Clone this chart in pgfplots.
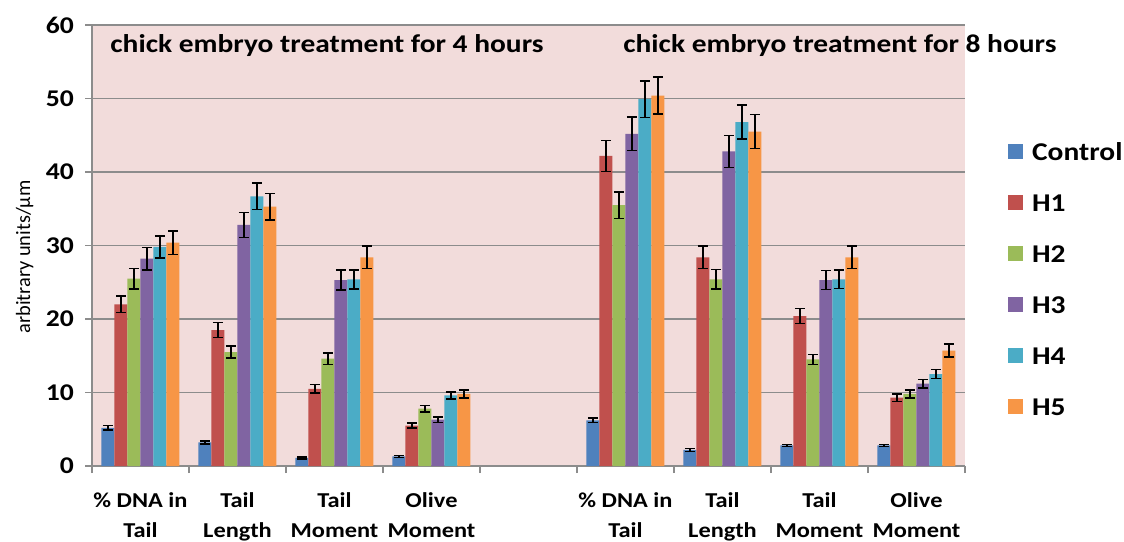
\documentclass[border=0pt]{standalone}
\usepackage{pgfplots}
\pgfplotsset{compat=1.18}
\usepackage{fontspec}
\setmainfont{Carlito}[FakeStretch=1.15]
\newfontfamily\ylabfont{Carlito}

\definecolor{cC}{HTML}{4F81BD}
\definecolor{cHa}{HTML}{C0504D}
\definecolor{cHb}{HTML}{9BBB59}
\definecolor{cHc}{HTML}{8064A2}
\definecolor{cHd}{HTML}{4BACC6}
\definecolor{cHe}{HTML}{F79646}
\definecolor{bgpink}{HTML}{F2DCDB}
\definecolor{gridgray}{HTML}{8C8C8C}

% x: 0-3 = 4 hours, 5-8 = 8 hours (4 is the empty gap)
\pgfplotstableread{
x ctrl ctrle hA   hAe  hB   hBe  hC   hCe  hD   hDe  hE   hEe
0 5.2  0.30  22.0 1.10 25.5 1.40 28.2 1.50 29.8 1.50 30.4 1.60
1 3.2  0.20  18.5 1.00 15.5 0.80 32.8 1.70 36.7 1.80 35.3 1.80
2 1.1  0.15  10.5 0.60 14.6 0.80 25.3 1.35 25.4 1.30 28.4 1.50
3 1.3  0.15  5.5  0.35 7.8  0.45 6.3  0.40 9.6  0.45 9.8  0.55
5 6.2  0.30  42.2 2.10 35.5 1.80 45.2 2.30 49.9 2.50 50.4 2.50
6 2.2  0.20  28.4 1.50 25.4 1.35 42.8 2.20 46.8 2.30 45.5 2.30
7 2.8  0.15  20.4 1.00 14.5 0.70 25.3 1.30 25.4 1.25 28.4 1.50
8 2.8  0.15  9.3  0.50 9.8  0.55 11.2 0.60 12.5 0.60 15.7 0.90
}\data

\begin{document}
\begin{tikzpicture}
\useasboundingbox (0,0) rectangle (562pt,270.5pt);
\begin{axis}[
    at={(46pt,37.5pt)}, anchor=south west,
    scale only axis,
    width=436.5pt, height=220.5pt,
    ybar=0pt, bar width=6.5pt,
    xmin=-0.5, xmax=8.5,
    ymin=0, ymax=60,
    clip=false,
    axis lines*=left,
    axis line style={gridgray, line width=0.75pt},
    axis background/.style={fill=bgpink},
    ymajorgrids,
    major grid style={gridgray, line width=0.75pt},
    ytick={0,10,...,60},
    xtick={0,...,8},
    minor xtick={-0.5,0.5,...,8.5},
    xticklabels={{\% DNA in\\Tail},{Tail\\Length},{Tail\\Moment},{Olive\\Moment},{},
                 {\% DNA in\\Tail},{Tail\\Length},{Tail\\Moment},{Olive\\Moment}},
    tick align=outside,
    major tick length=3.5pt, minor tick length=3.5pt,
    tick style={gridgray, line width=0.75pt},
    major x tick style={draw=none},
    /pgf/number format/assume math mode=true,
    yticklabel style={font=\bfseries\fontsize{12}{14}\selectfont, xshift=-2pt},
    xticklabel style={font=\bfseries\fontsize{10.6}{15}\selectfont, align=center, yshift=-6.5pt},
    ylabel={\ylabfont arbitrary units/µm},
    ylabel style={font=\fontsize{10.2}{12}\selectfont, at={(axis description cs:-0.077,0.474)}, anchor=center},
    legend style={at={(1.049,0.735)}, anchor=north west, draw=none, fill=none,
        inner sep=0pt, row sep=16.5pt, column sep=4.5pt,
        nodes={inner sep=0pt, text height=9pt, text depth=0pt},
        font=\bfseries\fontsize{12.8}{14}\selectfont},
    legend cell align=left,
    legend image code/.code={\fill[#1] (0pt,-3.75pt) rectangle (7.5pt,3.75pt);},
    eb/.style={error bars/.cd, y dir=both, y explicit,
        error bar style={black, line width=0.75pt},
        error mark options={rotate=90, black, mark size=2.5pt, line width=0.75pt}},
]
\addplot[fill=cC,  draw=none, eb] table[x=x, y=ctrl, y error=ctrle] {\data};
\addplot[fill=cHa, draw=none, eb] table[x=x, y=hA, y error=hAe] {\data};
\addplot[fill=cHb, draw=none, eb] table[x=x, y=hB, y error=hBe] {\data};
\addplot[fill=cHc, draw=none, eb] table[x=x, y=hC, y error=hCe] {\data};
\addplot[fill=cHd, draw=none, eb] table[x=x, y=hD, y error=hDe] {\data};
\addplot[fill=cHe, draw=none, eb] table[x=x, y=hE, y error=hEe] {\data};
\legend{Control,H1,H2,H3,H4,H5}
\node[anchor=base west, inner sep=0pt, font=\bfseries\fontsize{12.8}{14}\selectfont]
    at (axis cs:-0.314,56.3) {chick embryo treatment for 4 hours};
\node[anchor=base west, inner sep=0pt, font=\bfseries\fontsize{12.8}{14}\selectfont]
    at (axis cs:4.974,56.3) {chick embryo treatment for 8 hours};
\end{axis}
\end{tikzpicture}
\end{document}
